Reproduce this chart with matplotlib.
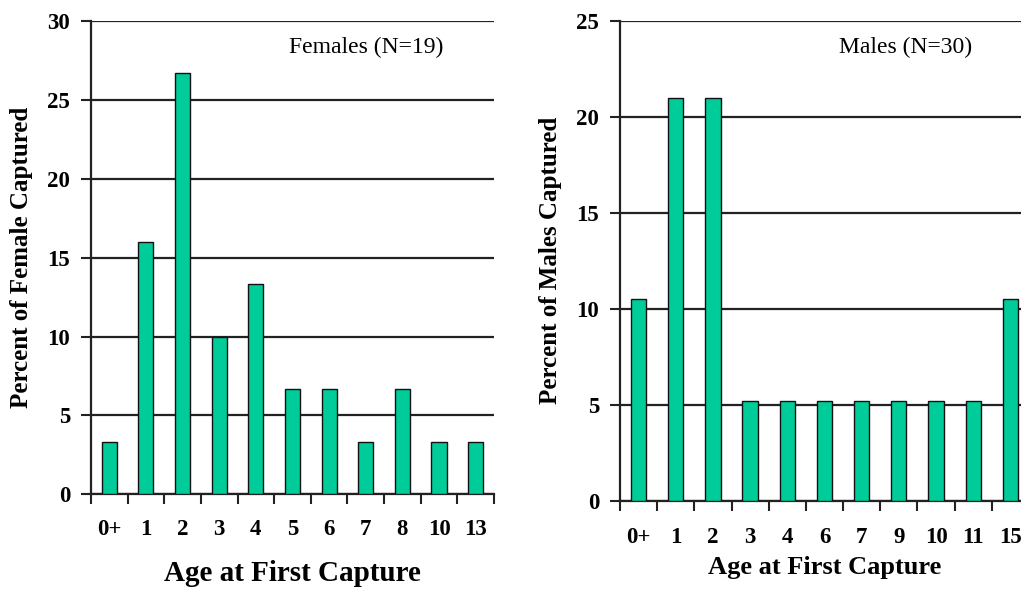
import numpy as np
import matplotlib.pyplot as plt
from matplotlib.ticker import FixedLocator, NullFormatter

plt.rcParams['font.family'] = ['Liberation Serif', 'DejaVu Serif']

female_ages = ["0+", "1", "2", "3", "4", "5", "6", "7", "8", "10", "13"]
female_pct = [3.3, 16.0, 26.7, 10.0, 13.3, 6.7, 6.7, 3.3, 6.7, 3.3, 3.3]

male_ages = ["0+", "1", "2", "3", "4", "6", "7", "9", "10", "11", "15"]
male_pct = [10.5, 21.0, 21.0, 5.2, 5.2, 5.2, 5.2, 5.2, 5.2, 5.2, 10.5]

bar_color = "#00CC99"

fig = plt.figure(figsize=(10.21, 5.89), dpi=100)
ax1 = fig.add_axes([0.0891, 0.1608, 0.3947, 0.8035])
ax2 = fig.add_axes([0.6072, 0.1499, 0.4006, 0.8144])


def draw_panel(ax, ages, pct, ymax, ystep, ylabel, note, note_x, xpad):
    x = np.arange(len(ages))
    ax.set_axisbelow(True)
    ax.yaxis.grid(True, color="#222222", linewidth=1.6)
    ax.bar(x, pct, width=0.41, color=bar_color, edgecolor="#111111", linewidth=1.0, zorder=3)
    ax.set_xlim(-0.5, len(ages) - 0.5)
    ax.set_ylim(0, ymax)
    ax.set_yticks(np.arange(0, ymax + 1, ystep))
    ax.set_xticks(x)
    ax.set_xticklabels(ages, fontweight="bold", fontsize=16.5)
    ax.tick_params(axis="x", which="major", length=0, pad=xpad)
    ax.xaxis.set_minor_locator(FixedLocator(np.arange(-0.5, len(ages), 1.0)))
    ax.xaxis.set_minor_formatter(NullFormatter())
    ax.tick_params(axis="x", which="minor", length=7, width=1.5, color="#222222")
    ax.tick_params(axis="y", length=7, width=1.5, color="#222222", labelsize=16.5, pad=8)
    for lab in ax.get_yticklabels():
        lab.set_fontweight("bold")
    for s in ["top", "right"]:
        ax.spines[s].set_visible(False)
    for s in ["left", "bottom"]:
        ax.spines[s].set_linewidth(1.6)
        ax.spines[s].set_color("#222222")
    ax.set_ylabel(ylabel, fontweight="bold", fontsize=18, labelpad=10)
    ax.text(note_x, 0.945, note, transform=ax.transAxes, fontsize=17, ha="center", va="center")


draw_panel(ax1, female_ages, female_pct, 30, 5, "Percent of Female Captured", "Females (N=19)", 0.682, 18)
ax1.set_xlabel("Age at First Capture", fontweight="bold", fontsize=21, labelpad=14)

draw_panel(ax2, male_ages, male_pct, 25, 5, "Percent of Males Captured", "Males (N=30)", 0.698, 19)
ax2.set_xlabel("Age at First Capture", fontweight="bold", fontsize=19, labelpad=6)

fig.savefig("out.png", dpi=100)
